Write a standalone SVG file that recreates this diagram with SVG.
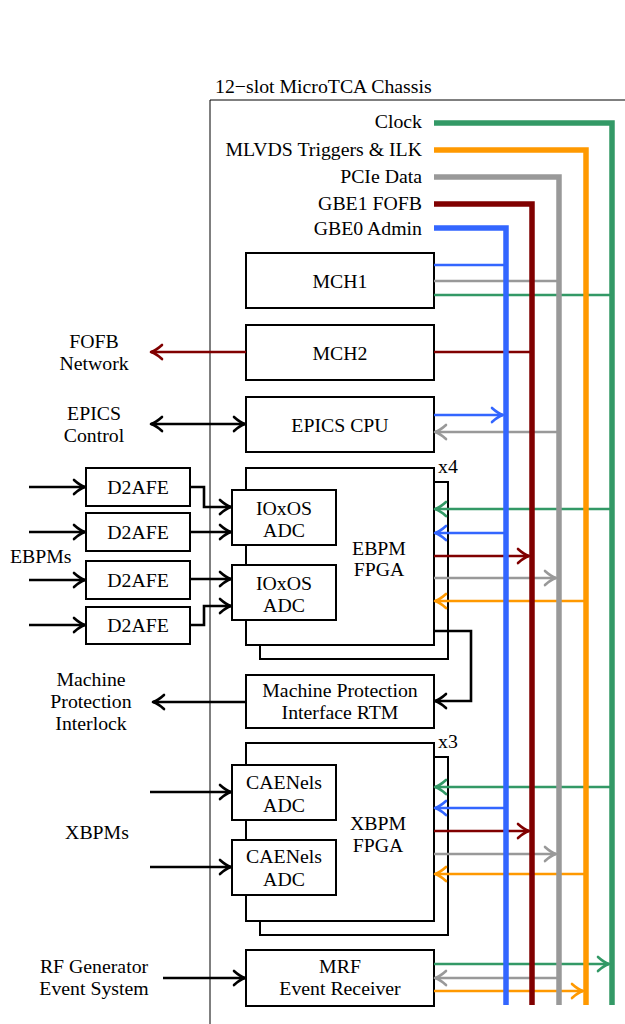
<svg xmlns="http://www.w3.org/2000/svg" width="625" height="1024" viewBox="0 0 625 1024">
<style>
text{font-family:"Liberation Serif","Times New Roman",serif;font-size:19.8px;fill:#000}
.c{text-anchor:middle}
.r{text-anchor:end}
.box{fill:#fff;stroke:#000;stroke-width:2}
.bus{fill:none;stroke-width:5.5;stroke-linejoin:miter}
.w{fill:none;stroke-width:2.6}
.k{stroke:#000}.bl{stroke:#3366ff}.rd{stroke:#800000}.gy{stroke:#999}.or{stroke:#ff9900}.gn{stroke:#339966}
</style>
<defs>
<marker id="ak" markerUnits="userSpaceOnUse" orient="auto-start-reverse" overflow="visible" markerWidth="1" markerHeight="1"><path d="M-11,-7 Q-5,-1.5 0,0 Q-5,1.5 -11,7" fill="none" stroke="#000" stroke-width="2.6" stroke-linecap="round" stroke-linejoin="round"/></marker>
<marker id="abl" markerUnits="userSpaceOnUse" orient="auto-start-reverse" overflow="visible" markerWidth="1" markerHeight="1"><path d="M-11,-7 Q-5,-1.5 0,0 Q-5,1.5 -11,7" fill="none" stroke="#3366ff" stroke-width="2.6" stroke-linecap="round" stroke-linejoin="round"/></marker>
<marker id="ard" markerUnits="userSpaceOnUse" orient="auto-start-reverse" overflow="visible" markerWidth="1" markerHeight="1"><path d="M-11,-7 Q-5,-1.5 0,0 Q-5,1.5 -11,7" fill="none" stroke="#800000" stroke-width="2.6" stroke-linecap="round" stroke-linejoin="round"/></marker>
<marker id="agy" markerUnits="userSpaceOnUse" orient="auto-start-reverse" overflow="visible" markerWidth="1" markerHeight="1"><path d="M-11,-7 Q-5,-1.5 0,0 Q-5,1.5 -11,7" fill="none" stroke="#999" stroke-width="2.6" stroke-linecap="round" stroke-linejoin="round"/></marker>
<marker id="aor" markerUnits="userSpaceOnUse" orient="auto-start-reverse" overflow="visible" markerWidth="1" markerHeight="1"><path d="M-11,-7 Q-5,-1.5 0,0 Q-5,1.5 -11,7" fill="none" stroke="#ff9900" stroke-width="2.6" stroke-linecap="round" stroke-linejoin="round"/></marker>
<marker id="agn" markerUnits="userSpaceOnUse" orient="auto-start-reverse" overflow="visible" markerWidth="1" markerHeight="1"><path d="M-11,-7 Q-5,-1.5 0,0 Q-5,1.5 -11,7" fill="none" stroke="#339966" stroke-width="2.6" stroke-linecap="round" stroke-linejoin="round"/></marker>
</defs>

<g id="chassis">
<path d="M625,100 H210 V1024" fill="none" stroke="#000" stroke-width="1"/>
<text x="215" y="93">12−slot MicroTCA Chassis</text>
</g>

<g id="labels">
<text class="r" x="422" y="128">Clock</text>
<text class="r" x="422" y="156">MLVDS Triggers &amp; ILK</text>
<text class="r" x="422" y="183">PCIe Data</text>
<text class="r" x="422" y="210">GBE1 FOFB</text>
<text class="r" x="422" y="235">GBE0 Admin</text>
<text class="c" x="94" y="348">FOFB</text>
<text class="c" x="94" y="370">Network</text>
<text class="c" x="94" y="420">EPICS</text>
<text class="c" x="94" y="442">Control</text>
<text x="10" y="563">EBPMs</text>
<text class="c" x="91" y="686">Machine</text>
<text class="c" x="91" y="708">Protection</text>
<text class="c" x="91" y="730">Interlock</text>
<text class="c" x="97" y="839">XBPMs</text>
<text class="c" x="94" y="973">RF Generator</text>
<text class="c" x="94" y="995">Event System</text>
</g>

<g id="mch1"><rect class="box" x="246" y="253" width="188" height="55"/><text class="c" x="340" y="288">MCH1</text></g>
<g id="mch2"><rect class="box" x="246" y="325" width="188" height="55"/><text class="c" x="340" y="360">MCH2</text></g>
<g id="epics-cpu"><rect class="box" x="246" y="397" width="188" height="55"/><text class="c" x="340" y="432">EPICS CPU</text></g>

<g id="d2afe1"><rect class="box" x="86" y="468" width="104" height="38"/><text class="c" x="138" y="494">D2AFE</text></g>
<g id="d2afe2"><rect class="box" x="86" y="513" width="104" height="38"/><text class="c" x="138" y="539">D2AFE</text></g>
<g id="d2afe3"><rect class="box" x="86" y="561" width="104" height="38"/><text class="c" x="138" y="587">D2AFE</text></g>
<g id="d2afe4"><rect class="box" x="86" y="607" width="104" height="37"/><text class="c" x="138" y="632">D2AFE</text></g>

<g id="ebpm-fpga">
<rect class="box" x="260" y="482" width="188" height="177"/>
<rect class="box" x="246" y="468" width="188" height="177"/>
<text x="438" y="473">x4</text>
<text class="c" x="379" y="555">EBPM</text>
<text class="c" x="379" y="576">FPGA</text>
</g>
<g id="ioxos-adc1"><rect class="box" x="232" y="490" width="104" height="55"/><text class="c" x="284" y="515">IOxOS</text><text class="c" x="284" y="537">ADC</text></g>
<g id="ioxos-adc2"><rect class="box" x="232" y="565" width="104" height="55"/><text class="c" x="284" y="590">IOxOS</text><text class="c" x="284" y="612">ADC</text></g>

<g id="mp-rtm"><rect class="box" x="246" y="675" width="188" height="53"/><text class="c" x="340" y="697">Machine Protection</text><text class="c" x="340" y="719">Interface RTM</text></g>

<g id="xbpm-fpga">
<rect class="box" x="260" y="757" width="188" height="178"/>
<rect class="box" x="246" y="743" width="188" height="178"/>
<text x="438" y="748">x3</text>
<text class="c" x="378" y="830">XBPM</text>
<text class="c" x="378" y="852">FPGA</text>
</g>
<g id="caenels-adc1"><rect class="box" x="232" y="765" width="104" height="55"/><text class="c" x="284" y="789">CAENels</text><text class="c" x="284" y="812">ADC</text></g>
<g id="caenels-adc2"><rect class="box" x="232" y="840" width="104" height="55"/><text class="c" x="284" y="863">CAENels</text><text class="c" x="284" y="886">ADC</text></g>

<g id="mrf"><rect class="box" x="246" y="950" width="188" height="56"/><text class="c" x="340" y="973">MRF</text><text class="c" x="340" y="995">Event Receiver</text></g>

<g id="connectors">
<!-- MCH1 -->
<path class="w bl" d="M434,265 H506"/>
<path class="w gy" d="M434,281 H559"/>
<path class="w gn" d="M434,295 H612"/>
<!-- MCH2 -->
<path class="w rd" d="M434,352 H532"/>
<path class="w rd" d="M246,352 H151" marker-end="url(#ard)"/>
<!-- EPICS CPU -->
<path class="w bl" d="M434,415 H503" marker-end="url(#abl)"/>
<path class="w gy" d="M559,432 H435" marker-end="url(#agy)"/>
<path class="w k" d="M151,424 H245" marker-start="url(#ak)" marker-end="url(#ak)"/>
<!-- EBPM inputs -->
<path class="w k" d="M29,487 H85" marker-end="url(#ak)"/>
<path class="w k" d="M29,532 H85" marker-end="url(#ak)"/>
<path class="w k" d="M29,580 H85" marker-end="url(#ak)"/>
<path class="w k" d="M29,625 H85" marker-end="url(#ak)"/>
<path class="w k" d="M190,487 H204 V507 H231" marker-end="url(#ak)"/>
<path class="w k" d="M190,532 H231" marker-end="url(#ak)"/>
<path class="w k" d="M190,579 H231" marker-end="url(#ak)"/>
<path class="w k" d="M190,625 H204 V606 H231" marker-end="url(#ak)"/>
<!-- EBPM bus -->
<path class="w gn" d="M612,509 H435" marker-end="url(#agn)"/>
<path class="w bl" d="M506,533 H435" marker-end="url(#abl)"/>
<path class="w rd" d="M434,556 H529" marker-end="url(#ard)"/>
<path class="w gy" d="M434,578 H556" marker-end="url(#agy)"/>
<path class="w or" d="M586,601 H435" marker-end="url(#aor)"/>
<!-- EBPM to RTM -->
<path class="w k" d="M434,631 H471 V701 H435" marker-end="url(#ak)"/>
<path class="w k" d="M246,702 H153" marker-end="url(#ak)"/>
<!-- XBPM -->
<path class="w k" d="M150,792 H231" marker-end="url(#ak)"/>
<path class="w k" d="M150,867 H231" marker-end="url(#ak)"/>
<path class="w gn" d="M612,787 H435" marker-end="url(#agn)"/>
<path class="w bl" d="M506,808 H435" marker-end="url(#abl)"/>
<path class="w rd" d="M434,831 H529" marker-end="url(#ard)"/>
<path class="w gy" d="M434,854 H556" marker-end="url(#agy)"/>
<path class="w or" d="M586,874 H435" marker-end="url(#aor)"/>
<!-- MRF -->
<path class="w k" d="M163,978 H245" marker-end="url(#ak)"/>
<path class="w gn" d="M434,964 H609" marker-end="url(#agn)"/>
<path class="w gy" d="M559,978 H435" marker-end="url(#agy)"/>
<path class="w or" d="M434,991 H583" marker-end="url(#aor)"/>
<!-- buses -->
<path class="bus bl" d="M434,228 H506 V1005"/>
<path class="bus rd" d="M434,204 H532 V1005"/>
<path class="bus gy" d="M434,177 H559 V1005"/>
<path class="bus or" d="M434,150 H586 V1005"/>
<path class="bus gn" d="M434,123 H612 V1005"/>
</g>
</svg>
